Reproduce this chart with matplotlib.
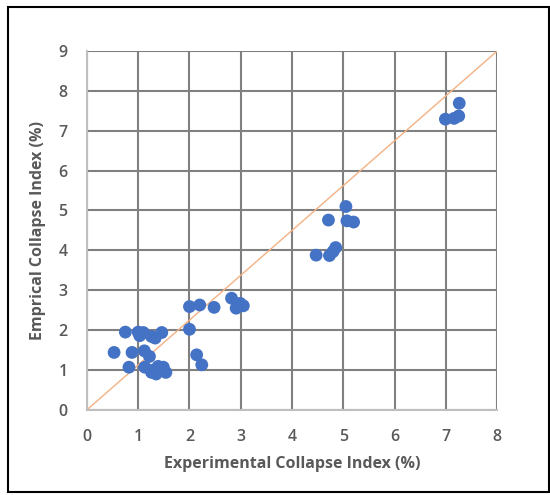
import matplotlib.pyplot as plt
from matplotlib.patches import Rectangle

# experimental vs empirical collapse index (%)
exp_ci = [7.26, 6.99, 7.16, 7.25,
          5.05, 4.71, 5.07, 5.20, 4.47, 4.73, 4.80, 4.85,
          2.82, 2.99, 3.05, 2.91, 2.00, 2.20, 2.48, 2.00, 2.14, 2.24,
          0.75, 1.00, 1.03, 1.10, 1.26, 1.33, 1.46,
          0.53, 0.88, 1.12, 1.22,
          0.82, 1.13, 1.26, 1.35, 1.39, 1.49, 1.54, 1.30]
emp_ci = [7.69, 7.29, 7.31, 7.37,
          5.10, 4.76, 4.74, 4.71, 3.88, 3.87, 3.97, 4.07,
          2.80, 2.67, 2.61, 2.55, 2.59, 2.63, 2.57, 2.02, 1.38, 1.13,
          1.95, 1.95, 1.86, 1.94, 1.84, 1.80, 1.94,
          1.44, 1.44, 1.48, 1.34,
          1.07, 1.07, 0.94, 0.90, 1.09, 1.07, 0.94, 1.00]

# reference line drawn corner to corner
line_x = [0, 8]
line_y = [0, 9]

xticks = [0, 1, 2, 3, 4, 5, 6, 7, 8]
yticks = [0, 1, 2, 3, 4, 5, 6, 7, 8, 9]

plt.rcParams['font.family'] = ['Open Sans', 'DejaVu Sans']

fig = plt.figure(figsize=(5.5, 4.95), dpi=100)
ax = fig.add_axes([0.158, 0.172, 0.746, 0.725])

ax.plot(line_x, line_y, color='#F4B183', lw=1.0, zorder=2)
ax.scatter(exp_ci, emp_ci, s=85, color='#4472C4', edgecolors='none', zorder=3)

ax.set_xlim(0, 8)
ax.set_ylim(0, 9)
ax.set_xticks(xticks)
ax.set_yticks(yticks)
ax.grid(True, color='#808080', lw=1.5, zorder=0)
ax.set_axisbelow(True)
ax.tick_params(length=0, labelsize=11.5, labelcolor='#595959', pad=14)
for t in ax.get_xticklabels() + ax.get_yticklabels():
    t.set_fontweight('semibold')

for s in ['top', 'right']:
    ax.spines[s].set_visible(False)
for s in ['left', 'bottom']:
    ax.spines[s].set_color('#BFBFBF')
    ax.spines[s].set_linewidth(1.5)

ax.set_xlabel('Experimental Collapse Index (%)', fontsize=11.5, color='#595959',
              fontweight='bold', labelpad=8)
ax.set_ylabel('Emprical Collapse Index (%)', fontsize=11.5, color='#595959',
              fontweight='bold', labelpad=9)

# black frame round the whole picture
fig.patches.append(Rectangle((8 / 550, 3 / 495), 541 / 550, 485 / 495,
                             transform=fig.transFigure, fill=False,
                             edgecolor='black', lw=1.5))

fig.savefig('out.png', dpi=100, facecolor='white')
